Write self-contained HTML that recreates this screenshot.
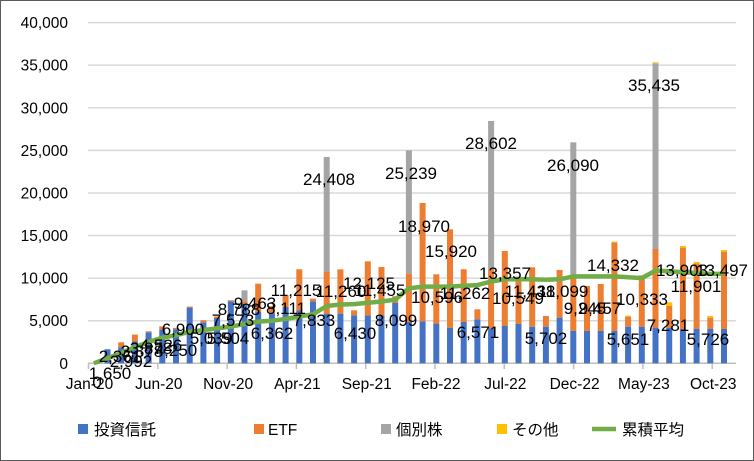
<!DOCTYPE html>
<html><head><meta charset="utf-8"><style>
html,body{margin:0;padding:0;background:#fff}
svg{display:block}
text{font-family:"Liberation Sans","Noto Sans CJK JP",sans-serif;fill:#000}
</style></head><body>
<svg id="c" width="754" height="461" xmlns="http://www.w3.org/2000/svg">
<rect x="0.5" y="0.5" width="753" height="460" fill="#fff" stroke="#595959"/>
<g id="grid"></g><g id="bars"></g><g id="line"></g><g id="labels"></g>
<g font-size="15.5">
<rect x="78" y="424" width="10" height="10" fill="#4472C4"/><text x="94" y="435">投資信託</text>
<rect x="254" y="424" width="10" height="10" fill="#ED7D31"/><text x="268" y="435">ETF</text>
<rect x="381" y="424" width="10" height="10" fill="#A5A5A5"/><text x="396" y="435">個別株</text>
<rect x="497" y="424" width="10" height="10" fill="#FFC000"/><text x="512" y="435">その他</text>
<line x1="592" y1="429" x2="616" y2="429" stroke="#70AD47" stroke-width="4.5"/><text x="622" y="435">累積平均</text>
</g>
</svg>
<script>
var NS="http://www.w3.org/2000/svg";
function el(p,t,a,txt){var e=document.createElementNS(NS,t);for(var k in a)e.setAttribute(k,a[k]);if(txt!=null)e.textContent=txt;document.getElementById(p).appendChild(e);return e;}
function Y(v){return 363.3-v*0.008518;}
function X(i){return 93.8+13.7*i;}
var yl=["0","5,000","10,000","15,000","20,000","25,000","30,000","35,000","40,000"];
for(var k=0;k<=8;k++){var y=Y(k*5000);
 if(k>0)el("grid","line",{x1:88,x2:736,y1:y,y2:y,stroke:"#D9D9D9","stroke-width":1.5});
 el("grid","text",{x:68,y:y+5.5,"text-anchor":"end","font-size":"15.5"},yl[k]);}
el("grid","line",{x1:88,x2:736,y1:363.3,y2:363.3,stroke:"#BFBFBF","stroke-width":1.5});
var xl=["Jan-20","Jun-20","Nov-20","Apr-21","Sep-21","Feb-22","Jul-22","Dec-22","May-23","Oct-23"];
for(var k=0;k<10;k++){var x=88.5+69.3*k;
 el("grid","line",{x1:x,x2:x,y1:363.3,y2:369,stroke:"#BFBFBF","stroke-width":1.5});
 el("grid","text",{x:x+1,y:389,"text-anchor":"middle","font-size":"15.5"},xl[k]);}
var d=[[0],[1650],[1880,580],[2580,790],[3640,120],[3990,350],[4000,150],[6540,120],[4810,240],[5320,180],[7280,120],
[7000,300,1270],[6020,3330],[5870,820],[6610,1370],[6200,4840],[7280,310],[5830,4890,13500],[5830,5200],[5630,590],[5630,6340],
[5630,5670],[7080,790],[4850,5680,14470],[4930,13890],[4660,5790],[4150,11580],[4850,6190],[5170,1170],[4110,6890,17450],[4380,8810],
[4620,5550],[4300,6970],[4300,1260],[5360,5600],[3800,6200,15940],[3800,5280],[3800,5510],[3800,10400,0,80],[4300,1180,0,120],[4300,6030],
[4190,9230,21800,120],[4190,2540,0,430],[4030,9550,0,190],[4030,7710,0,160],[4030,1330,0,200],[4030,9080,0,190]];
var col=["#4472C4","#ED7D31","#A5A5A5","#FFC000"];
d.forEach(function(r,i){var s=0;r.forEach(function(v,j){if(!v)return;var y1=Y(s),y2=Y(s+v);
 el("bars","rect",{x:X(i)-3,y:y2,width:6,height:y1-y2,fill:col[j]});s+=v;});});
var L=[0,600,1200,1900,2500,3000,3300,3700,3900,4100,4300,4600,4900,5000,5200,5500,5750,6730,6900,6950,7100,7250,7480,8800,9000,9000,9000,9100,9180,9600,9860,9860,9860,9800,9860,10200,10200,10200,10200,10100,10000,10880,10800,10700,10600,10500,10500];
el("line","polyline",{points:L.map(function(v,i){return X(i).toFixed(1)+","+Y(v).toFixed(1);}).join(" "),fill:"none",stroke:"#70AD47","stroke-width":4.5,"stroke-linejoin":"round"});
var lab=[["0",97,382],["1,650",110,373],["2,361",120,356],["2,992",131,361],["3,378",142,351],["3,878",151,348],["4,526",161,345],["4,250",176,350],
["6,900",183,329],["5,039",211,338],["5,504",228,338],["7,573",233,320],["8,788",239,309],["9,463",255,303],["6,362",272,333],["8,111",286,308],
["11,215",296,290],["7,833",314,320],["11,260",341,291],["6,430",355,333],["12,125",369,283],["11,455",380,290],["8,099",396,320],
["24,408",329,179],["25,239",411,173],["18,970",424,226],["15,920",451,251],["10,596",437,297],["11,262",465,293],["6,571",478,332],
["28,602",491,143],["13,357",505,273],["10,549",518,298],["11,438",530,291],["5,702",546,338],["11,099",563,291],["26,090",573,165],
["9,245",585,308],["9,457",600,308],["14,332",613,265],["5,651",628,339],["10,333",642,299],["35,435",654,85],["7,281",668,325],
["13,903",682,270],["11,901",696,286],["5,726",708,339],["13,497",722,270]];
lab.forEach(function(a){el("labels","text",{x:a[1],y:a[2]+6,"text-anchor":"middle","font-size":"17"},a[0]);});
</script>
</body></html>
